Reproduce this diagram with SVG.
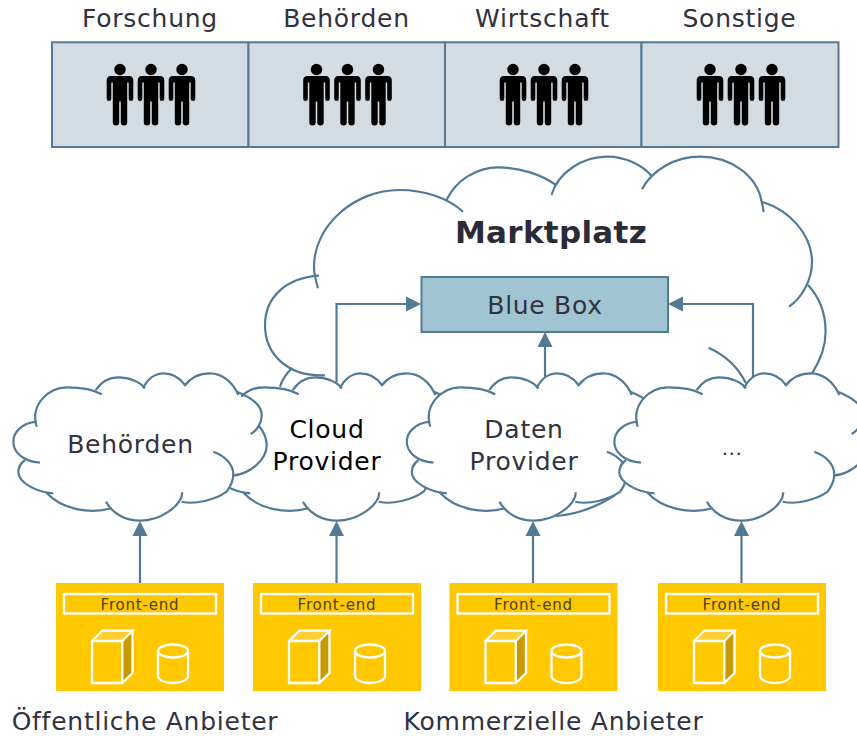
<svg xmlns="http://www.w3.org/2000/svg" width="857" height="736" viewBox="0 0 857 736">
<style>
text{font-family:"DejaVu Sans",Verdana,sans-serif;fill:#32323F;text-anchor:middle}
.t{font-size:25px;letter-spacing:.75px}
.c{font-size:25px;letter-spacing:.75px}
.fe{font-size:15px;letter-spacing:.8px;fill:#4A4420}
.ln{fill:none;stroke:#527A94;stroke-width:2.200}
.cell{fill:#D3DCE2;stroke:#527A94;stroke-width:2}
.yb{fill:#FFC800}
.w{fill:none;stroke:#fff;stroke-width:2.300}
</style>
<defs>
<g id="person" fill="#000">
<circle cx="0" cy="0" r="5.7"/>
<path d="M-9 6.5H9Q13.3 6.5 13.3 11V29Q13.3 31.5 11 31.5T8.7 29V13H7.2V53Q7.2 56 4 56T.8 53V32H-.8V53Q-.8 56 -4 56T-7.2 53V13H-8.7V29Q-8.7 31.5 -11 31.5T-13.3 29V11Q-13.3 6.5 -9 6.5Z"/>
</g>
<g id="trio"><use href="#person" x="0"/><use href="#person" x="31"/><use href="#person" x="62"/></g>
<g id="cloud">
<path fill="#fff" d="M40 462.7C5 460 5 425 36.7 421.7C30 405 48 387 67 387C80 387 93 389 98 390C102 381 110 377.3 118 377.3C130 377 140 382 145 386C150 377 156 373.3 163.3 373.3C172 373 180 378 185 385C192 377 200 373.3 210 373.3C222 373.3 233 382 238 395C255 402 266 420 258 425C270 445 258 470 232 476C232 485 228 490 225 492C212 503 195 505 180 500C172 514 155 520.7 140 520.7C125 520.7 114 515 108 509C90 514 62 510 46 492C25 490 10 470 25 460Z"/>
<path class="ln" d="M40 462.7C5 460 5 425 36.7 421.7"/>
<path class="ln" d="M36.700 426.700C30 405 48 387.300 67 387.300C80 387.300 93 389 101.700 394.300"/>
<path class="ln" d="M95.700 390C102 381 110 377.300 118 377.300C130 377.300 140 382 145 388.300"/>
<path class="ln" d="M143 388.300C148 378 156 373.300 163.300 373.300C172 373.300 180 378 185 385"/>
<path class="ln" d="M184.300 386C191 377 200 373.300 210 373.300C222 373.300 233 382 238.300 395"/>
<path class="ln" d="M237 391.700C252 398 262 405 261.700 416C261.500 424 256 431 250.700 434"/>
<path class="ln" d="M258.300 425C264 432 266.700 438 266.700 445C266.700 460 250 474 232.300 475.700"/>
<path class="ln" d="M213.300 451.700C225 456 233 464 233.300 474C233.500 481 230 487 226.700 491.700C215 500 195 505 181.700 501.700"/>
<path class="ln" d="M182.300 492.300C182 506 160 520.700 140 520.700C125 520.700 112 513 106 501.700"/>
<path class="ln" d="M111.700 508.300C90 514 62 510 46 492.300"/>
<path class="ln" d="M53.300 493.300C35 492 18.300 482 18.300 472C18.300 467 21 463 25 460"/>
</g>
<g id="fe">
<rect class="yb" x="56" y="583" width="168" height="108"/>
<rect class="w" x="64" y="594" width="152" height="19.500"/>
<text class="fe" x="140" y="609.500">Front-end</text>
<path fill="#FFD033" d="M92 641L102.300 630.700H132.500L122.300 641Z"/>
<path fill="#C99A00" d="M122.300 641L132.500 630.700V673L122.300 683Z"/>
<path class="w" d="M92 641L102.300 630.700H132.500L122.300 641M132.500 630.700V673L122.300 683M92 641H122.300V683H92Z"/>
<path class="w" d="M158 651V676C158 680 165 683 173 683S188 680 188 676V651"/>
<ellipse class="w" cx="173" cy="651" rx="15" ry="6.500"/>
</g>
<marker id="a" markerUnits="userSpaceOnUse" markerWidth="16" markerHeight="16" refX="7" refY="8" orient="auto"><path d="M0 .5L15 8L0 15.500Z" fill="#527A94"/></marker>
</defs>

<g id="table">
<rect class="cell" x="52" y="42.300" width="196.500" height="104.700"/>
<rect class="cell" x="248.500" y="42.300" width="196.500" height="104.700"/>
<rect class="cell" x="445" y="42.300" width="196.500" height="104.700"/>
<rect class="cell" x="641.500" y="42.300" width="197" height="104.700"/>
<text class="t" x="150" y="27">Forschung</text>
<text class="t" x="346.500" y="27">Behörden</text>
<text class="t" x="542.500" y="27">Wirtschaft</text>
<text class="t" x="739.500" y="27">Sonstige</text>
<use href="#trio" x="120" y="69.500"/>
<use href="#trio" x="316.500" y="69.500"/>
<use href="#trio" x="513" y="69.500"/>
<use href="#trio" x="710" y="69.500"/>
</g>

<g id="marktplatz">
<path fill="#fff" d="M325 375C250 360 255 280 319 276C310 215 370 190 399 190C420 190 435 195 447 200C460 175 480 167 498 167C525 167 545 175 554 187C565 165 590 157 607 157C625 157 640 165 650 178C665 165 680 157 700 157C730 157 755 175 762 202C790 210 812 235 812 260C812 270 810 280 808 285C820 300 826 315 826 332C826 350 820 360 812 373L746 383Z"/>
<path class="ln" d="M325 375.300C285 377 265 352 265 325C265 298 285 278 319 275.700"/>
<path class="ln" d="M318 288.300C315 278 314 272 314 266.700C314 225 355 190 399 190C425 190 448 198 463 211.700"/>
<path class="ln" d="M446.500 200C456 180 477 167.300 498 167.300C520 167.300 542 175 556 185"/>
<path class="ln" d="M551.500 195C558 172 583 156.700 607 156.700C625 156.700 643 165 652 176.700"/>
<path class="ln" d="M642 189.300C652 170 675 156.700 700 156.700C730 156.700 757 175 761.600 201.700C762.500 205 763.500 209 763.500 212.300"/>
<path class="ln" d="M761.600 201.700C790 210 812 235 812 262C812 280 802 298 789 306.700"/>
<path class="ln" d="M808 285C820 298 825.600 315 825.600 331.700C825.600 347 820 361 812 373.300"/>
<path class="ln" d="M746 383.300C738 367 725 355 708.500 347.700"/>
<path class="ln" d="M292 368C286 374 282 380 280 386.700"/>
<text x="551" y="243" font-size="31" font-weight="700" letter-spacing=".3" style="fill:#2B2B38">Marktplatz</text>
</g>

<g id="connectors">
<path class="ln" marker-end="url(#a)" d="M336.500 382V304H413"/>
<path class="ln" marker-end="url(#a)" d="M545 378V340"/>
<path class="ln" marker-end="url(#a)" d="M753 382V304H676"/>
<path class="ln" marker-end="url(#a)" d="M140 583V529"/>
<path class="ln" marker-end="url(#a)" d="M336.500 583V529"/>
<path class="ln" marker-end="url(#a)" d="M533 583V529"/>
<path class="ln" marker-end="url(#a)" d="M741.500 583V529"/>
</g>

<g id="bluebox">
<rect x="421.500" y="277" width="246.500" height="55" fill="#A0C4D1" stroke="#527A94" stroke-width="2"/>
<text x="545" y="314" font-size="25" letter-spacing=".7">Blue Box</text>
</g>

<g id="cloud-provider"><use href="#cloud" x="197"/><text x="327" y="438" class="c" style="fill:#000">Cloud</text><text x="327" y="470" class="c" style="fill:#000">Provider</text></g>
<g id="cloud-daten"><path class="ln" d="M556 516C580 514 600 505 615 495"/><use href="#cloud" x="393.500"/><text x="524" y="438" class="c">Daten</text><text x="524" y="470" class="c">Provider</text></g>
<g id="cloud-more"><use href="#cloud" x="601"/><text x="732" y="455" style="font-size:20px;letter-spacing:.5px">...</text></g>
<g id="cloud-behoerden"><use href="#cloud"/><text x="130.500" y="453" class="c">Behörden</text></g>

<g id="frontend-1"><use href="#fe"/></g>
<g id="frontend-2"><use href="#fe" x="197"/></g>
<g id="frontend-3"><use href="#fe" x="393.500"/></g>
<g id="frontend-4"><use href="#fe" x="602"/></g>

<text class="t" x="145" y="730">Öffentliche Anbieter</text>
<text class="t" x="553.500" y="730">Kommerzielle Anbieter</text>
</svg>
